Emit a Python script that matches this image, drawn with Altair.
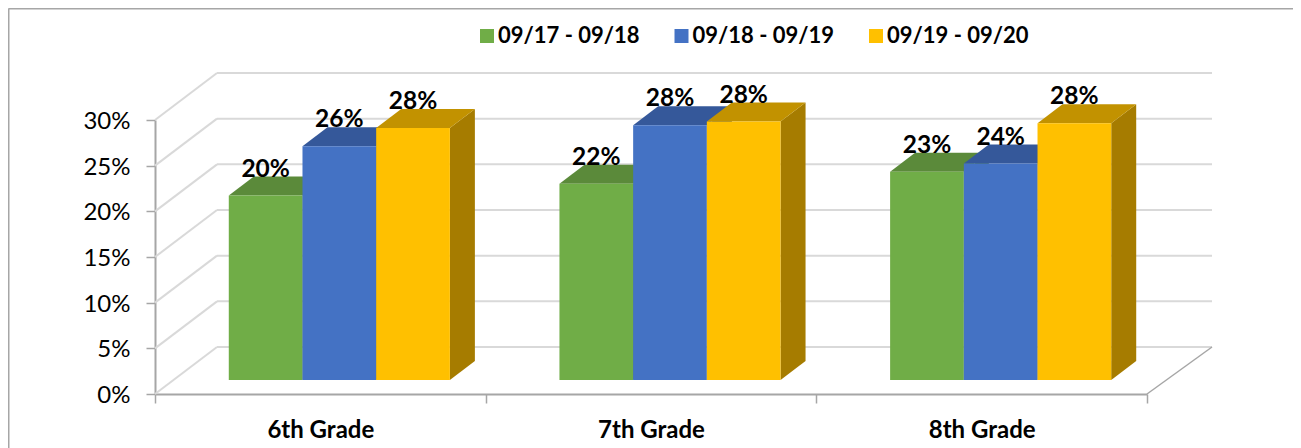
import altair as alt
import pandas as pd

grades = ["6th Grade", "7th Grade", "8th Grade"]
periods = ["09/17 - 09/18", "09/18 - 09/19", "09/19 - 09/20"]
green_vals = [20.2, 21.5, 22.8]
blue_vals = [25.6, 27.9, 23.7]
yellow_vals = [27.6, 28.3, 28.1]
labels = [["20%", "22%", "23%"], ["26%", "28%", "24%"], ["28%", "28%", "28%"]]
front_colors = ["#70AD47", "#4472C4", "#FFC000"]
top_colors = ["#5B8A3A", "#35589A", "#C29200"]
side_colors = ["#4F7A32", "#2B4A80", "#A67C00"]
y_ticks = [0, 5, 10, 15, 20, 25, 30]

PX_X = 992 / 3
PX_Y = 274 / 30
WALL_DX, WALL_DY = 62 / PX_X, 47 / PX_Y
EDGE_DX = 65 / PX_X
BASE_DX, BASE_DY = 19 / PX_X, 14 / PX_Y
BAR_DX, BAR_DY = 25 / PX_X, 19 / PX_Y
BAR_W = 73.7 / PX_X
GRID = "#D9D9D9"
AXIS = "#A6A6A6"
FONT = "Lato"

xs = alt.Scale(domain=[0, 3], nice=False, zero=False)
ys = alt.Scale(domain=[0, 30], nice=False)
X = lambda f, **k: alt.X(f, type="quantitative", scale=xs, **k)
Y = lambda f, **k: alt.Y(f, type="quantitative", scale=ys, **k)

# Walls
back = pd.DataFrame({"x": [WALL_DX] * 7, "x2": [3 + EDGE_DX] * 7, "y": [t + WALL_DY for t in y_ticks]})
left = pd.DataFrame({"x": [0] * 7, "x2": [WALL_DX] * 7, "y": y_ticks, "y2": [t + WALL_DY for t in y_ticks]})
floor_edge = pd.DataFrame({"x": [3], "x2": [3 + EDGE_DX], "y": [0], "y2": [WALL_DY]})

axes_layer = alt.Chart(back).mark_rule(color=GRID, strokeWidth=2).encode(
    x=X("x", axis=alt.Axis(
        values=[0, 0.5, 1, 1.5, 2, 2.5, 3], title=None, grid=False,
        domainColor=AXIS, domainWidth=2, tickColor=AXIS, tickWidth=1.5, tickSize=9,
        tickOpacity={"expr": "datum.value % 1 == 0 ? 1 : 0"},
        labelExpr="datum.value == 0.5 ? '6th Grade' : datum.value == 1.5 ? '7th Grade' : datum.value == 2.5 ? '8th Grade' : ''",
        labelFont=FONT, labelFontWeight="bold", labelFontSize=24, labelColor="#000000",
        labelPadding=15, labelFlush=False, labelOverlap=False)),
    x2="x2:Q",
    y=Y("y", axis=alt.Axis(
        values=y_ticks, title=None, grid=False, labelExpr="datum.value + '%'",
        domainColor=AXIS, domainWidth=2, tickColor=AXIS, tickWidth=1.5, tickSize=9,
        labelFont=FONT, labelFontSize=24, labelColor="#000000", labelPadding=16, labelOffset=1.5)),
)
left_layer = alt.Chart(left).mark_rule(color=GRID, strokeWidth=2).encode(
    x=X("x"), x2="x2:Q", y=Y("y"), y2="y2:Q")
edge_layer = alt.Chart(floor_edge).mark_rule(color=AXIS, strokeWidth=1.5).encode(
    x=X("x"), x2="x2:Q", y=Y("y"), y2="y2:Q")

layers = [axes_layer, left_layer, edge_layer]

# Bars: side, top and front faces, series by series
lab_rows = []
for s, vals in enumerate([green_vals, blue_vals, yellow_vals]):
    side, top, front = [], [], []
    for g, v in enumerate(vals):
        x0 = g + 0.5 - 1.5 * BAR_W + BASE_DX + s * BAR_W
        x1 = x0 + BAR_W
        b = BASE_DY
        t = v + BASE_DY
        side += [dict(id=g, x=x1, lo=b, hi=t), dict(id=g, x=x1 + BAR_DX, lo=b + BAR_DY, hi=t + BAR_DY)]
        top += [dict(id=g, x=x0, lo=t, hi=t),
                dict(id=g, x=x0 + BAR_DX, lo=t, hi=t + BAR_DY),
                dict(id=g, x=x1, lo=t, hi=t + BAR_DY),
                dict(id=g, x=x1 + BAR_DX, lo=t + BAR_DY, hi=t + BAR_DY)]
        front.append(dict(period=periods[s], x=x0, x2=x1, lo=b, hi=t))
        lab_rows.append(dict(x=(x0 + x1) / 2, y=t, label=labels[s][g]))
    layers.append(alt.Chart(pd.DataFrame(side)).mark_area(color=side_colors[s]).encode(
        x=X("x"), y=Y("lo"), y2="hi:Q", detail="id:N"))
    layers.append(alt.Chart(pd.DataFrame(top)).mark_area(color=top_colors[s]).encode(
        x=X("x"), y=Y("lo"), y2="hi:Q", detail="id:N"))
    layers.append(alt.Chart(pd.DataFrame(front)).mark_bar().encode(
        x=X("x"), x2="x2:Q", y=Y("lo"), y2="hi:Q",
        color=alt.Color("period:N", scale=alt.Scale(domain=periods, range=front_colors),
                        legend=alt.Legend(
                            orient="none", legendX=321, legendY=-95, direction="horizontal",
                            title=None, symbolType="square", symbolSize=196, symbolStrokeWidth=0,
                            symbolOpacity=1, labelFont=FONT, labelFontWeight="bold", labelFontSize=22,
                            labelColor="#000000", labelOffset=0, columnPadding=30.5, padding=0))))

layers.append(alt.Chart(pd.DataFrame(lab_rows)).mark_text(
    font=FONT, fontWeight="bold", fontSize=24.5, color="#000000", dy=-26, baseline="middle", align="center"
).encode(x=X("x"), y=Y("y"), text="label:N"))

# Outer frame
frame = pd.DataFrame({"x": [-146.5, -146.5], "x2": [-146.5, 1138],
                      "y": [-111.5, -111.5], "y2": [328, -111.5]})
frame_layer = alt.Chart(frame).mark_rule(color=AXIS, strokeWidth=2).encode(
    x=alt.X("x:Q", scale=None), x2="x2:Q", y=alt.Y("y:Q", scale=None), y2="y2:Q")
layers.append(frame_layer)

chart = alt.layer(*layers).resolve_scale(x="shared", y="shared").properties(
    width=992, height=274,
    padding={"left": 147, "top": 112, "right": 146, "bottom": 54},
    autosize=alt.AutoSizeParams(type="none"),
).configure_view(stroke=None)

chart.save("out.html", embed_options={"renderer": "svg", "actions": False})
